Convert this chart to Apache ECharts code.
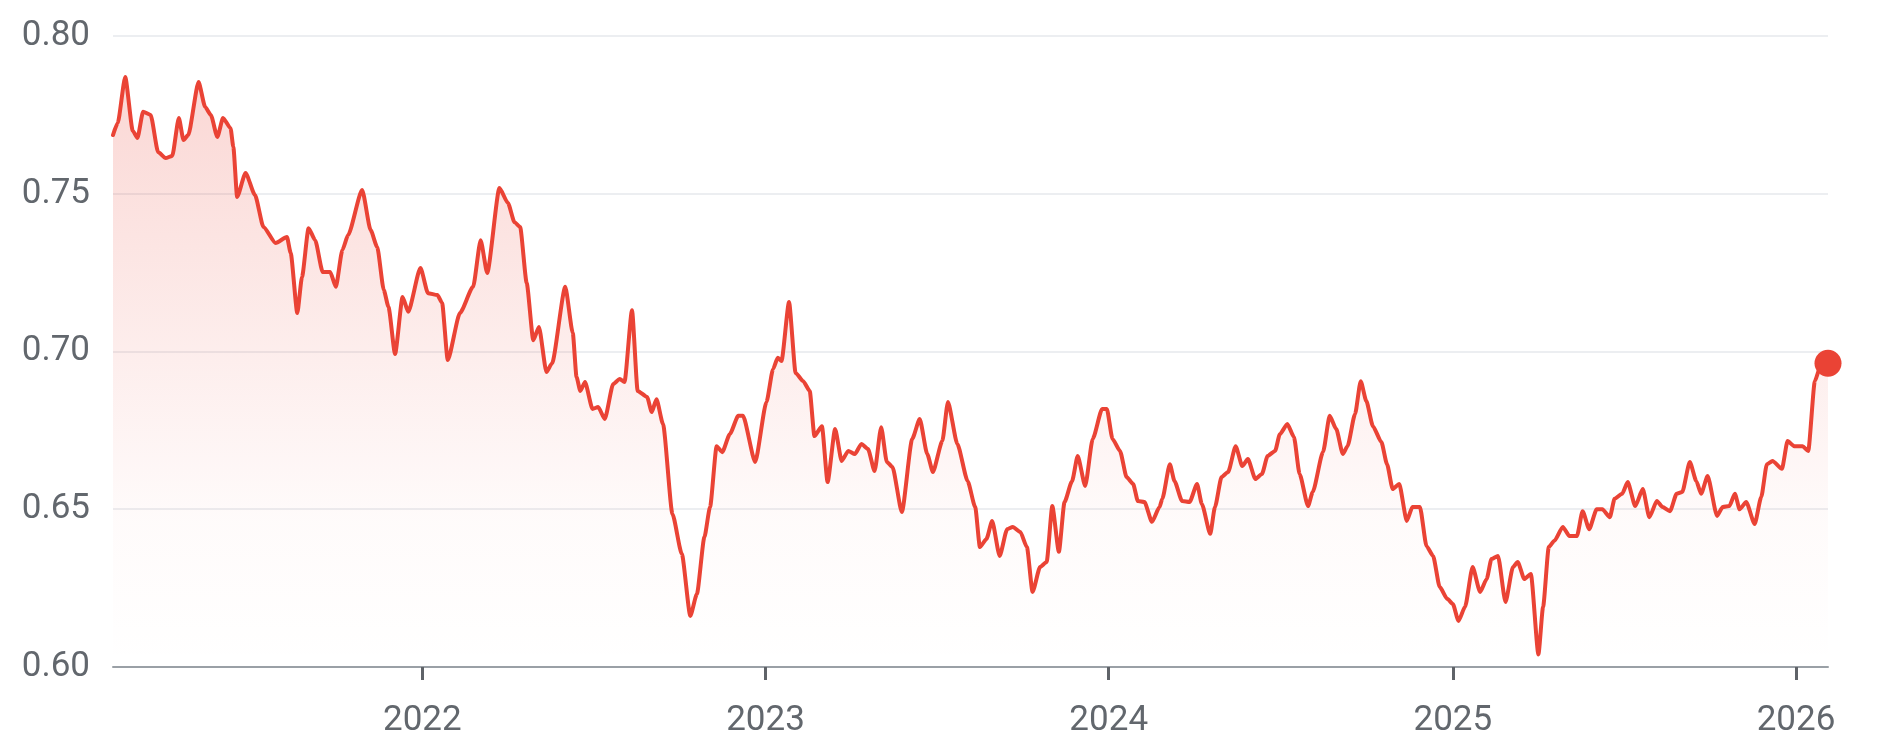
<!DOCTYPE html>
<html><head><meta charset="utf-8">
<script src="https://cdn.jsdelivr.net/npm/echarts@6/dist/echarts.min.js"></script>
<style>html,body{margin:0;padding:0;background:#fff}#chart{width:1879px;height:754px}</style>
</head><body><div id="chart"></div>
<script>
const dates = [
'2021-02-06','2021-02-11','2021-02-19','2021-02-27','2021-03-04','2021-03-10','2021-03-18','2021-03-26','2021-04-03','2021-04-10',
'2021-04-17','2021-04-22','2021-04-27','2021-05-08','2021-05-15','2021-05-21','2021-05-28','2021-06-03','2021-06-11','2021-06-14',
'2021-06-18','2021-06-27','2021-07-07','2021-07-16','2021-07-29','2021-08-10','2021-08-14','2021-08-21','2021-08-26','2021-09-02',
'2021-09-09','2021-09-17','2021-09-25','2021-10-01','2021-10-08','2021-10-14','2021-10-29','2021-11-07','2021-11-14','2021-11-21',
'2021-11-26','2021-12-03','2021-12-11','2021-12-17','2021-12-30','2022-01-07','2022-01-17','2022-01-22','2022-01-28','2022-02-10',
'2022-02-24','2022-03-04','2022-03-11','2022-03-24','2022-04-02','2022-04-09','2022-04-15','2022-04-22','2022-04-29','2022-05-05',
'2022-05-13','2022-05-19','2022-06-02','2022-06-10','2022-06-14','2022-06-18','2022-06-23','2022-07-01','2022-07-07','2022-07-14',
'2022-07-23','2022-07-30','2022-08-04','2022-08-12','2022-08-18','2022-08-28','2022-09-02','2022-09-07','2022-09-14','2022-09-24',
'2022-10-04','2022-10-13','2022-10-20','2022-10-28','2022-11-03','2022-11-10','2022-11-16','2022-11-24','2022-12-03','2022-12-08',
'2022-12-21','2023-01-02','2023-01-09','2023-01-14','2023-01-18','2023-01-26','2023-02-02','2023-02-10','2023-02-17','2023-02-22',
'2023-03-02','2023-03-08','2023-03-16','2023-03-23','2023-03-30','2023-04-06','2023-04-13','2023-04-20','2023-04-27','2023-05-04',
'2023-05-10','2023-05-16','2023-05-26','2023-06-06','2023-06-14','2023-06-22','2023-06-28','2023-07-08','2023-07-14','2023-07-24',
'2023-08-04','2023-08-12','2023-08-17','2023-08-24','2023-08-30','2023-09-07','2023-09-15','2023-09-21','2023-09-29','2023-10-06',
'2023-10-12','2023-10-20','2023-10-27','2023-11-02','2023-11-09','2023-11-15','2023-11-23','2023-11-29','2023-12-07','2023-12-15',
'2023-12-25','2023-12-30','2024-01-05','2024-01-13','2024-01-20','2024-01-27','2024-02-01','2024-02-08','2024-02-16','2024-02-24',
'2024-02-27','2024-03-06','2024-03-11','2024-03-19','2024-03-27','2024-04-04','2024-04-09','2024-04-18','2024-04-23','2024-04-30',
'2024-05-07','2024-05-15','2024-05-22','2024-05-28','2024-06-05','2024-06-12','2024-06-18','2024-06-26','2024-07-01','2024-07-09',
'2024-07-16','2024-07-22','2024-07-31','2024-08-05','2024-08-16','2024-08-23','2024-08-30','2024-09-06','2024-09-11','2024-09-19',
'2024-09-25','2024-10-01','2024-10-08','2024-10-17','2024-10-23','2024-10-29','2024-11-05','2024-11-13','2024-11-19','2024-11-27',
'2024-12-04','2024-12-11','2024-12-18','2024-12-26','2025-01-01','2025-01-07','2025-01-14','2025-01-22','2025-01-30','2025-02-06',
'2025-02-11','2025-02-18','2025-02-26','2025-03-06','2025-03-11','2025-03-18','2025-03-25','2025-04-02','2025-04-07','2025-04-13',
'2025-04-19','2025-04-28','2025-05-05','2025-05-13','2025-05-19','2025-05-26','2025-06-03','2025-06-09','2025-06-17','2025-06-22',
'2025-06-30','2025-07-06','2025-07-14','2025-07-22','2025-07-29','2025-08-06','2025-08-12','2025-08-20','2025-08-27','2025-09-02',
'2025-09-10','2025-09-17','2025-09-22','2025-09-29','2025-10-09','2025-10-15','2025-10-22','2025-10-28','2025-11-02','2025-11-09',
'2025-11-18','2025-11-25','2025-12-01','2025-12-07','2025-12-17','2025-12-23','2025-12-30','2026-01-08','2026-01-14','2026-01-21',
'2026-01-26','2026-02-04'
];
const values = [
0.7686,0.7724,0.7870,0.7700,0.7677,0.7760,0.7750,0.7632,0.7613,0.7620,
0.7740,0.7670,0.7686,0.7854,0.7775,0.7750,0.7680,0.7740,0.7708,0.7648,
0.7490,0.7566,0.7496,0.7395,0.7344,0.7363,0.7312,0.7122,0.7236,0.7391,
0.7353,0.7252,0.7252,0.7205,0.7322,0.7369,0.7512,0.7385,0.7331,0.7195,
0.7141,0.6992,0.7173,0.7126,0.7265,0.7185,0.7179,0.7154,0.6973,0.7122,
0.7205,0.7353,0.7249,0.7518,0.7471,0.7410,0.7395,0.7217,0.7036,0.7078,
0.6935,0.6963,0.7205,0.7059,0.6919,0.6875,0.6903,0.6818,0.6824,0.6786,
0.6897,0.6913,0.6903,0.7131,0.6875,0.6856,0.6808,0.6849,0.6770,0.6485,
0.6358,0.6162,0.6231,0.6412,0.6507,0.6700,0.6681,0.6738,0.6796,0.6796,
0.6650,0.6840,0.6944,0.6980,0.6970,0.7157,0.6932,0.6906,0.6875,0.6732,
0.6763,0.6586,0.6754,0.6653,0.6685,0.6675,0.6707,0.6691,0.6621,0.6760,
0.6650,0.6634,0.6491,0.6723,0.6786,0.6675,0.6618,0.6716,0.6840,0.6707,
0.6589,0.6507,0.6380,0.6406,0.6463,0.6352,0.6437,0.6444,0.6428,0.6380,
0.6238,0.6317,0.6333,0.6510,0.6365,0.6523,0.6589,0.6669,0.6574,0.6723,
0.6818,0.6818,0.6723,0.6685,0.6602,0.6580,0.6526,0.6523,0.6460,0.6507,
0.6533,0.6643,0.6589,0.6526,0.6523,0.6580,0.6517,0.6422,0.6507,0.6602,
0.6618,0.6700,0.6637,0.6659,0.6596,0.6612,0.6669,0.6685,0.6738,0.6770,
0.6729,0.6612,0.6510,0.6555,0.6682,0.6796,0.6754,0.6675,0.6700,0.6802,
0.6906,0.6843,0.6763,0.6713,0.6643,0.6564,0.6580,0.6463,0.6507,0.6507,
0.6383,0.6352,0.6254,0.6216,0.6200,0.6146,0.6191,0.6317,0.6238,0.6279,
0.6342,0.6352,0.6206,0.6317,0.6333,0.6279,0.6295,0.6040,0.6191,0.6380,
0.6400,0.6444,0.6415,0.6415,0.6494,0.6437,0.6500,0.6500,0.6475,0.6533,
0.6549,0.6586,0.6510,0.6564,0.6475,0.6526,0.6507,0.6494,0.6549,0.6555,
0.6650,0.6589,0.6549,0.6605,0.6479,0.6507,0.6510,0.6549,0.6500,0.6523,
0.6453,0.6539,0.6643,0.6653,0.6628,0.6716,0.6700,0.6700,0.6685,0.6906,
0.6945,0.6963
];
const yearTickLabels = ['2022','2023','2024','2025','2026'];
const yMin = 0.60, yMax = 0.80, yStep = 0.05;

function toTime(s) { const p = s.split('-').map(Number); return new Date(p[0], p[1] - 1, p[2]).getTime(); }
const seriesData = dates.map((d, i) => [toTime(d), values[i]]);
const yearTicks = yearTickLabels.map(y => new Date(+y, 0, 1).getTime());
const lastPoint = seriesData.slice(-1);

const chart = echarts.init(document.getElementById('chart'));
const txt = '#62676d';
chart.setOption({
  animation: false,
  backgroundColor: '#ffffff',
  textStyle: { fontFamily: 'Roboto' },
  grid: { left: 113, right: 51, top: 36, bottom: 87, containLabel: false },
  xAxis: {
    type: 'value',
    min: seriesData[0][0], max: seriesData[seriesData.length - 1][0],
    axisLine: { show: true, onZero: false, lineStyle: { color: '#9aa0a6', width: 2 } },
    axisTick: { show: true, customValues: yearTicks, length: 13, lineStyle: { color: '#5f6368', width: 3 } },
    axisLabel: {
      customValues: yearTicks, color: txt, fontSize: 35, fontFamily: 'Roboto', margin: 37,
      formatter: v => String(new Date(v).getFullYear())
    },
    splitLine: { show: false }
  },
  yAxis: {
    type: 'value', min: yMin, max: yMax, interval: yStep,
    axisLine: { show: false }, axisTick: { show: false },
    axisLabel: { color: txt, fontSize: 35, fontFamily: 'Roboto', margin: 23, formatter: v => v.toFixed(2) },
    splitLine: { lineStyle: { color: '#eceef1', width: 2 } }
  },
  series: [
    {
      type: 'line', data: seriesData, showSymbol: false, symbol: 'none',
      smooth: 0.2, smoothMonotone: 'x',
      lineStyle: { color: '#ea4335', width: 4, join: 'round', cap: 'round' },
      areaStyle: {
        color: new echarts.graphic.LinearGradient(0, 0, 0, 1, [
          { offset: 0, color: 'rgba(234,67,53,0.30)' },
          { offset: 0.75, color: 'rgba(234,67,53,0.03)' },
          { offset: 1, color: 'rgba(234,67,53,0.0)' }
        ])
      },
      z: 2
    },
    {
      type: 'scatter', data: lastPoint, symbol: 'circle', symbolSize: 27,
      itemStyle: { color: '#ea4335', opacity: 1 }, z: 3
    }
  ]
});
</script></body></html>
